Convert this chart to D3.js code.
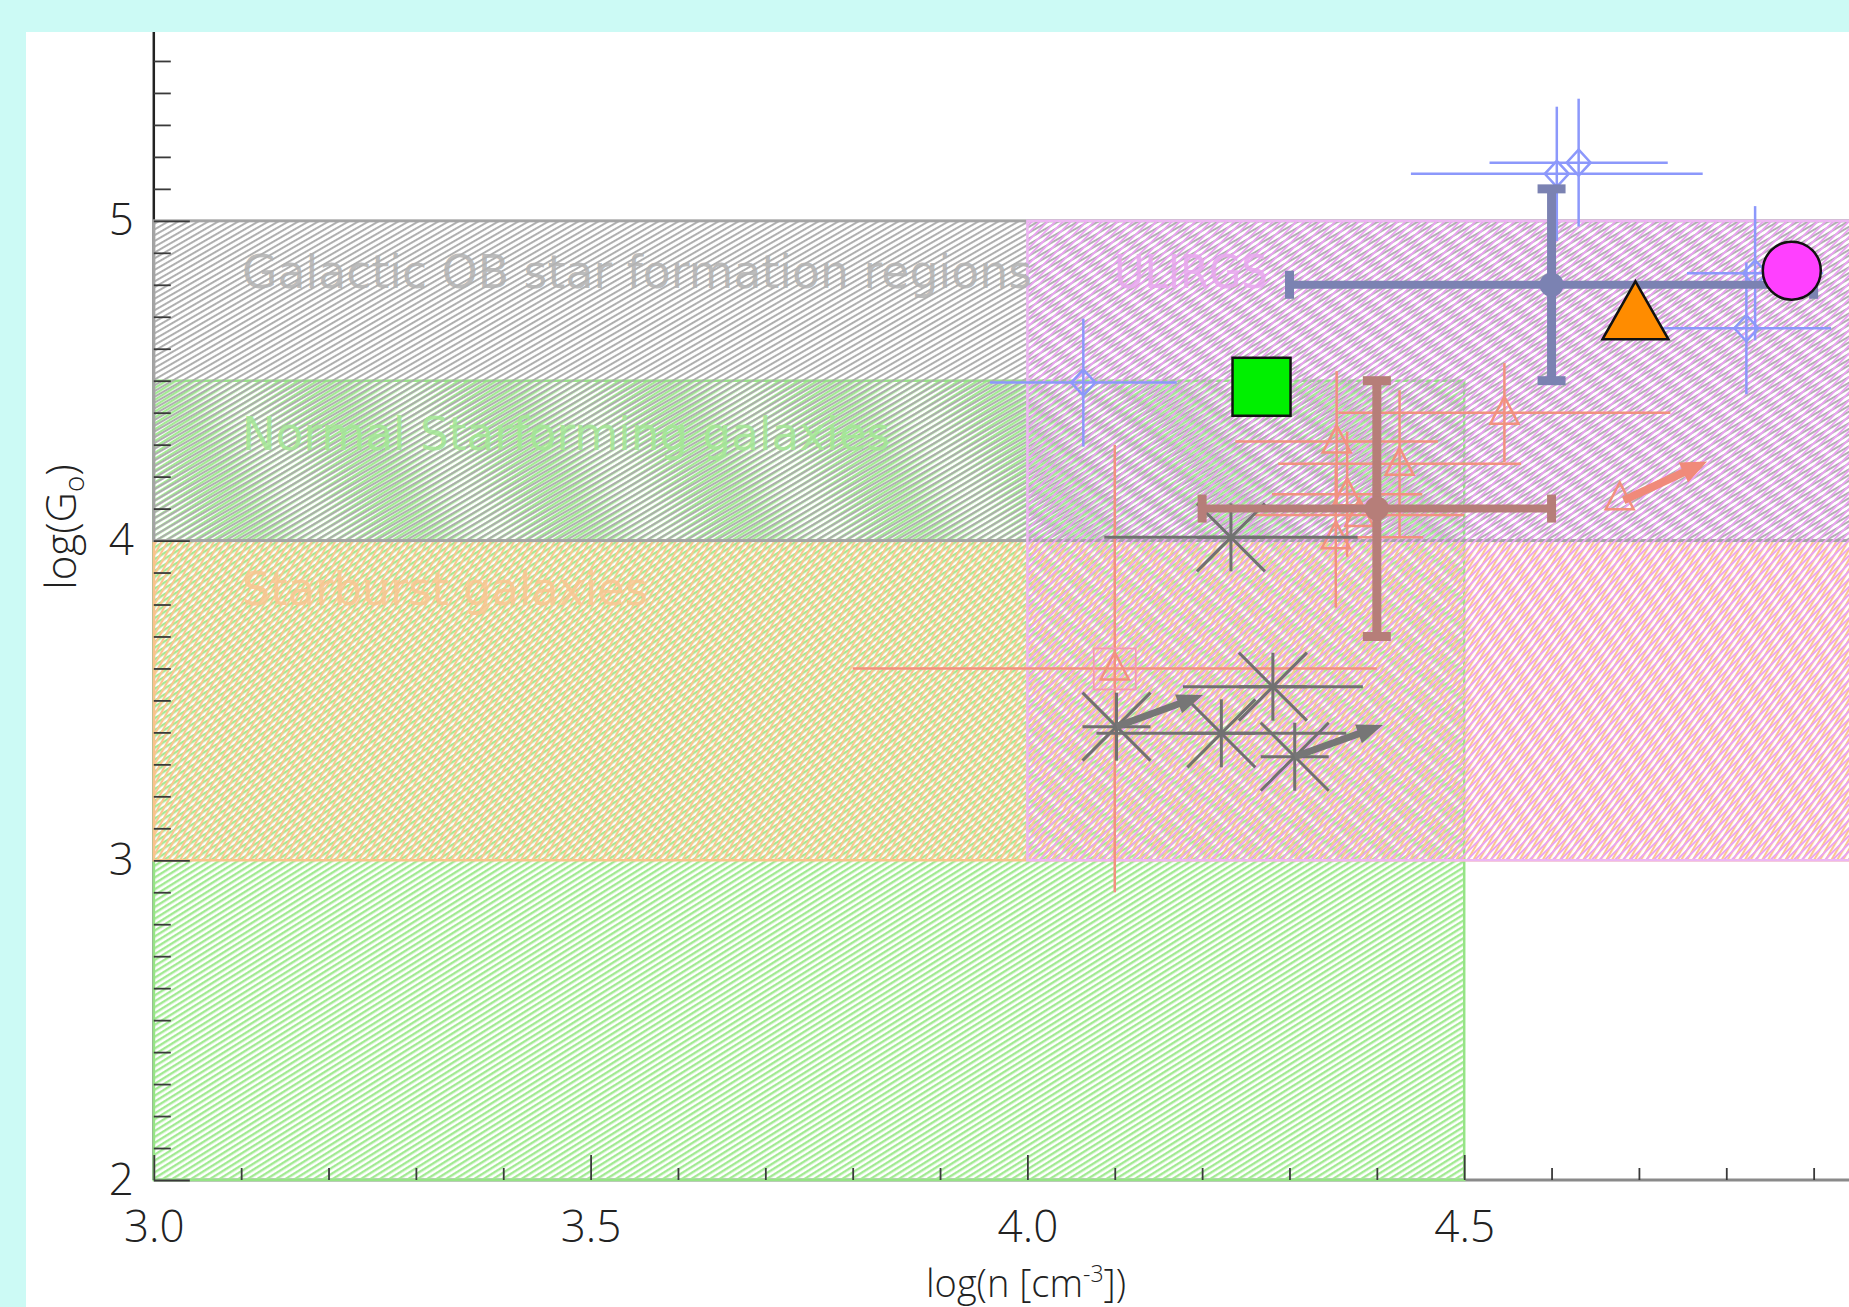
<!DOCTYPE html>
<html>
<head>
<meta charset="UTF-8">
<title>log(G0) vs log(n)</title>
<style>
  html, body { margin: 0; padding: 0; background: #ccfaf5; }
  svg { display: block; }
  text { font-family: 'DejaVu Sans', sans-serif; }
  .tick text { font-family: 'Open Sans', 'DejaVu Sans', sans-serif; font-weight: 300; font-size: 44px; fill: #222; }
</style>
</head>
<body>
<svg id="chart" width="1849" height="1307"></svg>
<script src="https://d3js.org/d3.v7.min.js"></script>
<script>
  // ---- axes ----
  const xTickValues = [3.0, 3.5, 4.0, 4.5];
  const xTickLabels = ["3.0", "3.5", "4.0", "4.5"];
  const yTickValues = [2, 3, 4, 5];
  const yTickLabels = ["2", "3", "4", "5"];

  // ---- shaded regions (log n range, log G0 range) ----
  const regionNames = ["Normal Starforming galaxies", "Starburst galaxies",
                       "Galactic OB star formation regions", "ULIRGS"];
  const regionLogN = [[3.0, 4.5], [3.0, 5.0], [3.0, 5.0], [4.0, 5.0]];
  const regionLogG = [[2.0, 4.5], [3.0, 4.0], [4.0, 5.0], [3.0, 5.0]];

  // ---- open diamonds (blue) ----
  const diamondN    = [4.064, 4.606, 4.631, 4.833, 4.823];
  const diamondG    = [4.494, 5.147, 5.182, 4.836, 4.664];
  const diamondNErr = [0.107, 0.167, 0.102, 0.078, 0.097];
  const diamondGErr = [0.20, 0.21, 0.20, 0.21, 0.206];

  // ---- open triangles (salmon) ----
  const triN    = [4.546, 4.354, 4.426, 4.366, 4.380, 4.353, 4.100];
  const triG    = [4.400, 4.310, 4.240, 4.145, 4.080, 4.010, 3.600];
  const triNErr = [0.19, 0.116, 0.139, 0.086, 0.12, 0.10, 0.30];
  const triGErr = [0.155, 0.22, 0.23, 0.196, 0.0, 0.22, 0.70];
  const triBoxed = [false, false, false, false, false, false, true];
  // triangle with a shift arrow
  const triArrowFrom = [4.678, 4.132];
  const triArrowTo   = [4.778, 4.247];

  // ---- asterisks (gray) ----
  const starN    = [4.233, 4.102, 4.222, 4.281, 4.306];
  const starG    = [4.010, 3.418, 3.397, 3.543, 3.324];
  const starNErr = [0.145, 0.0, 0.143, 0.103, 0.0];
  const starArrowFromN = [4.102, 4.306];
  const starArrowFromG = [3.418, 3.324];
  const starArrowToN   = [4.201, 4.407];
  const starArrowToG   = [3.517, 3.423];

  // ---- mean values with error bars ----
  const meanN    = [4.6, 4.4];
  const meanG    = [4.8, 4.1];
  const meanNErr = [0.3, 0.2];
  const meanGErr = [0.3, 0.4];

  // ---- single symbols ----
  const squareNG   = [4.268, 4.481];
  const orangeNG   = [4.696, 4.720];
  const magentaNG  = [4.875, 4.844];

  // ================= drawing =================
  const svg = d3.select("#chart");
  const W = 1849, H = 1307;

  const x = d3.scaleLinear().domain([3, 5]).range([153.8, 1901]);
  const y = d3.scaleLinear().domain([2, 5.6]).range([1180, 29]);

  const regionStyle = [
    { line: "#a2ea92", border: "#96e486", text: "#a4e796", angle: 32, gap: 5, w: 2.4,
      label: [3.101, 4.283], len: 648 },
    { line: "#fbc690", border: "#f9c48c", text: "#f8c793", angle: 60, gap: 5, w: 2.2,
      label: [3.101, 3.80], len: 406 },
    { line: "#acacac", border: "#a4a4a4", text: "#b3b3b3", angle: 30, gap: 5, w: 1.9,
      label: [3.101, 4.79], len: 790 },
    { line: "#eba2f2", border: "#edb6f2", text: "#e8a8ee", angle: 45, gap: 5.5, w: 1.9,
      label: [4.099, 4.79], len: 154 }
  ];

  const defs = svg.append("defs");
  defs.append("clipPath").attr("id", "panel")
    .append("rect").attr("x", 26).attr("y", 32).attr("width", W - 26).attr("height", H - 32);

  function hatch(id, color, angle, gap, width) {
    const p = defs.append("pattern").attr("id", id)
      .attr("patternUnits", "userSpaceOnUse")
      .attr("width", gap).attr("height", gap)
      .attr("patternTransform", `rotate(${-angle})`);
    p.append("rect").attr("x", 0).attr("y", 0)
      .attr("width", gap).attr("height", width).attr("fill", color);
  }
  regionStyle.forEach((s, i) => hatch("hatch" + i, s.line, s.angle, s.gap, s.w));

  // white panel
  svg.append("rect").attr("x", 26).attr("y", 32)
    .attr("width", W - 26).attr("height", H - 32).attr("fill", "#fff");

  const plot = svg.append("g").attr("clip-path", "url(#panel)");

  // axis lines
  plot.append("line").attr("x1", x(3)).attr("x2", x(3)).attr("y1", y(2)).attr("y2", y(5.6))
    .attr("stroke", "#222").attr("stroke-width", 2.5);
  plot.append("line").attr("x1", x(3)).attr("x2", x(5)).attr("y1", y(2)).attr("y2", y(2))
    .attr("stroke", "#8a8a8a").attr("stroke-width", 3);

  // regions
  regionNames.forEach((name, i) => {
    const s = regionStyle[i];
    plot.append("rect")
      .attr("x", x(regionLogN[i][0])).attr("width", x(regionLogN[i][1]) - x(regionLogN[i][0]))
      .attr("y", y(regionLogG[i][1])).attr("height", y(regionLogG[i][0]) - y(regionLogG[i][1]))
      .attr("fill", `url(#hatch${i})`)
      .attr("stroke", s.border).attr("stroke-width", i === 2 ? 3 : 2.5);
  });

  // ticks
  const yMinor = d3.range(21, 56).map(v => v / 10).filter(v => v % 1 !== 0);
  const xMinor = d3.range(31, 50).map(v => v / 10).filter(v => Math.abs(v * 2 - Math.round(v * 2)) > 1e-6);

  const yAxis = plot.append("g").attr("transform", `translate(${x(3)},0)`)
    .call(d3.axisLeft(y).tickValues(yTickValues).tickSize(-36).tickPadding(20)
      .tickFormat((d, i) => yTickLabels[i]));
  const yAxisMinor = plot.append("g").attr("transform", `translate(${x(3)},0)`)
    .call(d3.axisLeft(y).tickValues(yMinor).tickSize(-17).tickFormat(""));
  const xAxis = plot.append("g").attr("transform", `translate(0,${y(2)})`)
    .call(d3.axisBottom(x).tickValues(xTickValues).tickSize(-25).tickPadding(31)
      .tickFormat((d, i) => xTickLabels[i]));
  const xAxisMinor = plot.append("g").attr("transform", `translate(0,${y(2)})`)
    .call(d3.axisBottom(x).tickValues(xMinor).tickSize(-12).tickFormat(""));
  [yAxis, yAxisMinor, xAxis, xAxisMinor].forEach(a => {
    a.select(".domain").remove();
    a.selectAll(".tick line").attr("stroke", "#3a3a3a").attr("stroke-width", 1.8);
  });
  yAxis.selectAll(".tick text").attr("font-size", 44);
  xAxis.selectAll(".tick text").attr("font-size", 43);

  // region labels
  regionNames.forEach((name, i) => {
    const s = regionStyle[i];
    plot.append("text")
      .attr("x", x(s.label[0])).attr("y", y(s.label[1]))
      .attr("font-size", 46)
      .attr("textLength", s.len).attr("lengthAdjust", "spacingAndGlyphs")
      .attr("fill", s.text).attr("fill-opacity", 0.9)
      .text(name);
  });

  // axis titles
  const yTitle = svg.append("text")
    .attr("transform", `translate(76,527) rotate(-90)`)
    .attr("text-anchor", "middle").attr("font-size", 42).attr("fill", "#222")
    .style("font-weight", 300).style("font-family", "'Open Sans', 'DejaVu Sans', sans-serif");
  yTitle.append("tspan").text("log(G");
  yTitle.append("tspan").attr("font-size", 28).attr("dy", 8).text("o");
  yTitle.append("tspan").attr("dy", -8).text(")");

  const xTitle = svg.append("text")
    .attr("x", 1026).attr("y", 1297)
    .attr("text-anchor", "middle").attr("font-size", 38).attr("fill", "#222")
    .style("font-weight", 300).style("font-family", "'Open Sans', 'DejaVu Sans', sans-serif");
  xTitle.append("tspan").text("log(n [cm");
  xTitle.append("tspan").attr("font-size", 23).attr("dy", -15).text("-3");
  xTitle.append("tspan").attr("dy", 15).text("])");

  // ---- helpers ----
  function errLine(g, x1, y1, x2, y2, color, w) {
    g.append("line").attr("x1", x1).attr("y1", y1).attr("x2", x2).attr("y2", y2)
      .attr("stroke", color).attr("stroke-width", w);
  }
  function arrow(g, x0, y0, x1, y1, color, shaft, headLen, headHalf) {
    const dx = x1 - x0, dy = y1 - y0, L = Math.hypot(dx, dy);
    const ux = dx / L, uy = dy / L, nx = -uy, ny = ux;
    const bx = x1 - ux * headLen, by = y1 - uy * headLen;
    errLine(g, x0, y0, bx + ux * 2, by + uy * 2, color, shaft);
    g.append("path")
      .attr("d", `M${x1},${y1}L${bx + nx * headHalf},${by + ny * headHalf}L${bx - nx * headHalf},${by - ny * headHalf}Z`)
      .attr("fill", color);
  }

  const data = plot.append("g");

  // salmon triangles
  const salmon = "#f2917f";
  const triG_ = data.append("g");
  triN.forEach((n, i) => {
    const cx = x(n), cy = y(triG[i]);
    if (triNErr[i] > 0) errLine(triG_, x(n - triNErr[i]), cy, x(n + triNErr[i]), cy, salmon, 2.5);
    if (triGErr[i] > 0) errLine(triG_, cx, y(triG[i] + triGErr[i]), cx, y(triG[i] - triGErr[i]), salmon, 2.5);
    triG_.append("path")
      .attr("d", `M${cx},${cy - 16}L${cx + 14},${cy + 11}L${cx - 14},${cy + 11}Z`)
      .attr("fill", "none").attr("stroke", salmon).attr("stroke-width", 2.5);
    if (triBoxed[i]) {
      triG_.append("rect").attr("x", cx - 21).attr("y", cy - 20).attr("width", 42).attr("height", 41)
        .attr("fill", "none").attr("stroke", "#f49ab0").attr("stroke-width", 1.8);
    }
  });
  {
    const cx = x(triArrowFrom[0]), cy = y(triArrowFrom[1]);
    triG_.append("path")
      .attr("d", `M${cx},${cy - 16}L${cx + 14},${cy + 11}L${cx - 14},${cy + 11}Z`)
      .attr("fill", "none").attr("stroke", salmon).attr("stroke-width", 2.5);
    arrow(triG_, cx + 4, cy + 2, x(triArrowTo[0]), y(triArrowTo[1]), "#f08a7a", 8, 26, 11);
  }

  // blue diamonds
  const blue = "#8c98fb";
  const diaG = data.append("g");
  diamondN.forEach((n, i) => {
    const cx = x(n), cy = y(diamondG[i]);
    errLine(diaG, x(n - diamondNErr[i]), cy, x(n + diamondNErr[i]), cy, blue, 2.5);
    errLine(diaG, cx, y(diamondG[i] + diamondGErr[i]), cx, y(diamondG[i] - diamondGErr[i]), blue, 2.5);
    diaG.append("path")
      .attr("d", `M${cx},${cy - 13}L${cx + 12},${cy}L${cx},${cy + 13}L${cx - 12},${cy}Z`)
      .attr("fill", "none").attr("stroke", blue).attr("stroke-width", 2.5);
  });

  // gray asterisks
  const gray = "#717171";
  const starGrp = data.append("g");
  starN.forEach((n, i) => {
    const cx = x(n), cy = y(starG[i]), r = 34;
    if (starNErr[i] > 0) errLine(starGrp, x(n - starNErr[i]), cy, x(n + starNErr[i]), cy, gray, 3);
    [[0, r], [r, 0], [r, r], [r, -r]].forEach(([dx, dy]) =>
      errLine(starGrp, cx - dx, cy - dy, cx + dx, cy + dy, gray, 3));
  });
  starArrowFromN.forEach((n, i) => {
    arrow(starGrp, x(n), y(starArrowFromG[i]), x(starArrowToN[i]), y(starArrowToG[i]), "#767676", 7, 26, 10);
  });

  // mean points with thick error bars
  const meanColors = ["#7b82b2", "#b67e79"];
  const meanGrp = data.append("g");
  [1, 0].forEach(i => {
    const c = meanColors[i], cx = x(meanN[i]), cy = y(meanG[i]);
    const xl = x(meanN[i] - meanNErr[i]), xr = x(meanN[i] + meanNErr[i]);
    const yt = y(meanG[i] + meanGErr[i]), yb = y(meanG[i] - meanGErr[i]);
    errLine(meanGrp, xl, cy, xr, cy, c, 8);
    errLine(meanGrp, cx, yt, cx, yb, c, 9);
    [xl, xr].forEach(px => errLine(meanGrp, px, cy - 14, px, cy + 14, c, 9));
    [yt, yb].forEach(py => errLine(meanGrp, cx - 14, py, cx + 14, py, c, 9));
    meanGrp.append("circle").attr("cx", cx).attr("cy", cy).attr("r", 12).attr("fill", c);
  });

  // single symbols
  const symGrp = data.append("g");
  symGrp.append("rect")
    .attr("x", x(squareNG[0]) - 29).attr("y", y(squareNG[1]) - 29)
    .attr("width", 58).attr("height", 58)
    .attr("fill", "#00f000").attr("stroke", "#111").attr("stroke-width", 2.5);
  {
    const cx = x(orangeNG[0]), cy = y(orangeNG[1]);
    symGrp.append("path")
      .attr("d", `M${cx},${cy - 29}L${cx + 33},${cy + 29}L${cx - 33},${cy + 29}Z`)
      .attr("fill", "#ff8c00").attr("stroke", "#111").attr("stroke-width", 2.5);
  }
  symGrp.append("circle").attr("cx", x(magentaNG[0])).attr("cy", y(magentaNG[1])).attr("r", 29)
    .attr("fill", "#ff40ff").attr("stroke", "#111").attr("stroke-width", 2.5);
</script>
</body>
</html>
